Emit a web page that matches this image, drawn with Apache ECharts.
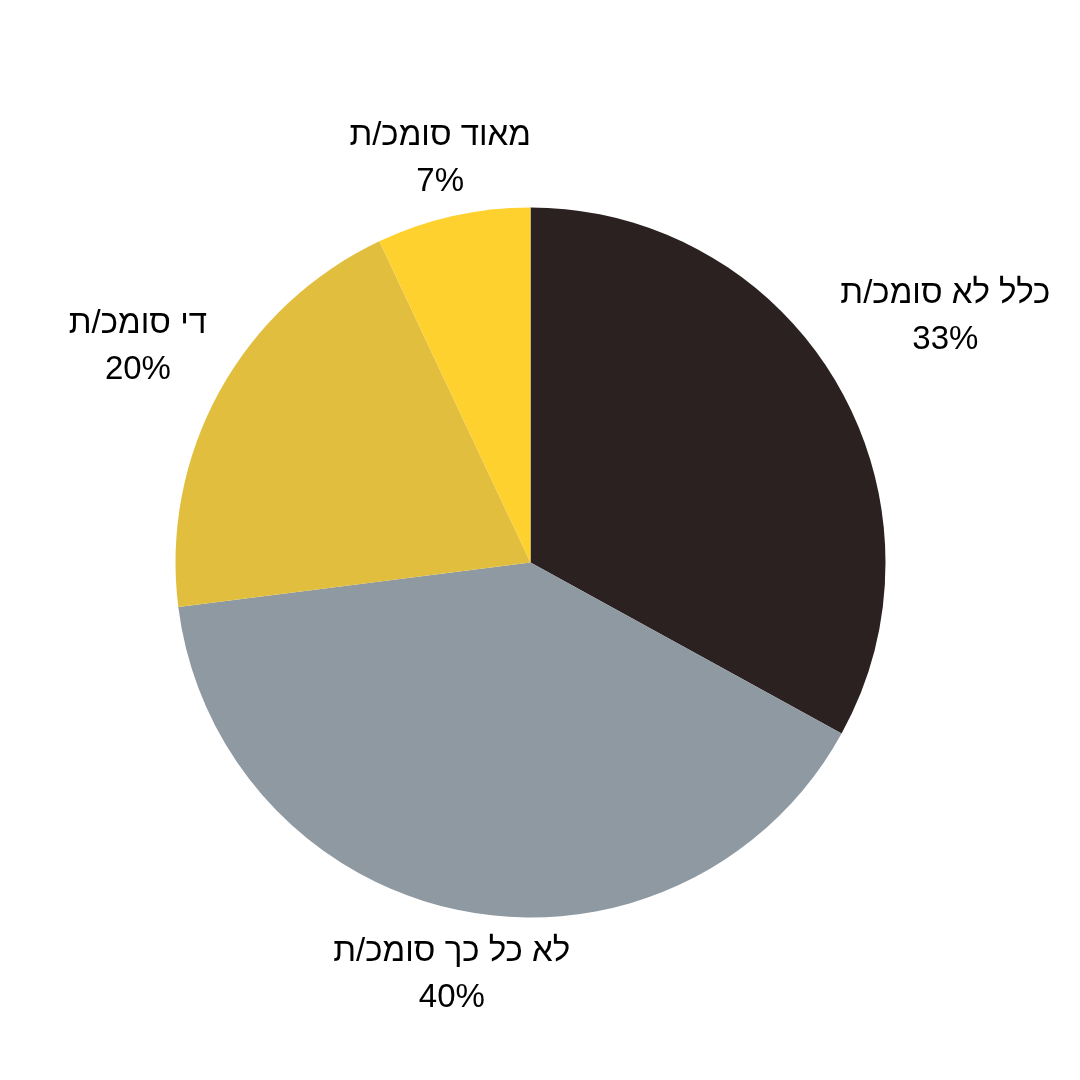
<!DOCTYPE html>
<html>
<head>
<meta charset="utf-8">
<script src="https://cdn.jsdelivr.net/npm/echarts@6/dist/echarts.min.js"></script>
<style>
html,body{margin:0;padding:0;background:#fff;}
#chart{width:1080px;height:1080px;}
</style>
</head>
<body>
<div id="chart"></div>
<script>
// Data
const categories = ['כלל לא סומכ/ת', 'לא כל כך סומכ/ת', 'די סומכ/ת', 'מאוד סומכ/ת'];
const values = [33, 40, 20, 7];
const colors = ['#2a2120', '#8f99a2', '#e1be3e', '#fed12e'];

// Layout (not data)
const CX = 530.5, CY = 562.5, R = 355;
const labelDist = [482, 420, 448, 414];

const total = values.reduce((a, b) => a + b, 0);
const midAngles = [];
let acc = 0;
values.forEach(v => { midAngles.push((acc + v / 2) / total * 2 * Math.PI); acc += v; });

const chart = echarts.init(document.getElementById('chart'), null, {renderer: 'canvas'});
chart.setOption({
  backgroundColor: '#ffffff',
  animation: false,
  series: [{
    type: 'pie',
    center: [CX, CY],
    radius: R,
    startAngle: 90,
    clockwise: true,
    avoidLabelOverlap: false,
    data: categories.map((c, i) => ({name: c, value: values[i], itemStyle: {color: colors[i]}})),
    itemStyle: {borderWidth: 0},
    label: {
      show: true,
      position: 'outside',
      formatter: p => p.name + '\n' + p.value + '%',
      fontFamily: 'Liberation Sans',
      fontSize: 33,
      lineHeight: 46,
      color: '#000000',
      align: 'center'
    },
    labelLine: {show: false},
    labelLayout: function (params) {
      const i = params.dataIndex;
      const a = midAngles[i];
      return {
        x: CX + labelDist[i] * Math.sin(a),
        y: CY - labelDist[i] * Math.cos(a),
        align: 'center',
        verticalAlign: 'middle'
      };
    },
    emphasis: {disabled: true}
  }]
});
</script>
</body>
</html>
